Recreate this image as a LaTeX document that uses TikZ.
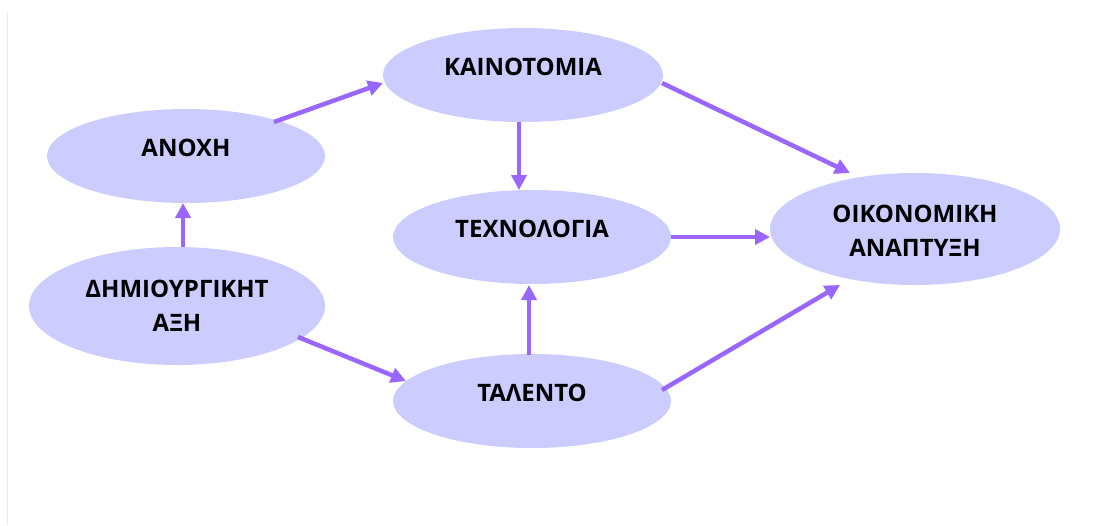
\documentclass[tikz,border=0pt]{standalone}
\usepackage{fontspec}
\setmainfont{Open Sans}
\usetikzlibrary{arrows.meta,shapes.geometric}
\definecolor{ellfill}{HTML}{CCCCFF}
\definecolor{arrcol}{HTML}{9966FF}
\begin{document}
\begin{tikzpicture}[x=1pt,y=-1pt,
  ell/.style={ellipse, fill=ellfill, inner sep=0pt},
  lbl/.style={font=\bfseries\fontsize{24}{34}\selectfont, align=center, inner sep=0pt, text=black},
  arr/.style={draw=arrcol, line width=4.5pt, -{Triangle[width=15pt,length=15pt]}}]
\useasboundingbox (0,0) rectangle (1102,525);
\fill[white] (0,0) rectangle (1102,525);
\draw[black!8, line width=1pt] (7.5,13) -- (7.5,525);
% ellipses
\node[ell, minimum width=278pt, minimum height=94pt] (anoxh) at (186,156) {};
\node[ell, minimum width=296pt, minimum height=118pt] (dim) at (177,306) {};
\node[ell, minimum width=280pt, minimum height=94pt] (kain) at (523,75) {};
\node[ell, minimum width=278pt, minimum height=94pt] (tech) at (532,237) {};
\node[ell, minimum width=278pt, minimum height=94pt] (tal) at (532,401) {};
\node[ell, minimum width=290pt, minimum height=112pt] (oik) at (915,229) {};
% labels
\node[lbl] (anoxhT) at ([yshift=8pt]anoxh.center) {ΑΝΟΧΗ};
\node[lbl] (dimT) at (dim.center) {ΔΗΜΙΟΥΡΓΙΚΗΤ\\ΑΞΗ};
\node[lbl] (kainT) at ([yshift=8pt]kain.center) {ΚΑΙΝΟΤΟΜΙΑ};
\node[lbl] (techT) at ([yshift=8pt]tech.center) {ΤΕΧΝΟΛΟΓΙΑ};
\node[lbl] (talT) at ([yshift=8pt]tal.center) {ΤΑΛΕΝΤΟ};
\node[lbl] (oikT) at ([yshift=-2pt]oik.center) {ΟΙΚΟΝΟΜΙΚΗ\\ΑΝΑΠΤΥΞΗ};
% arrows
\draw[arr] ([shift={(88,-34)}]anoxh.center) -- ([shift={(-140,8)}]kain.center);
\draw[arr] ([shift={(6,-59)}]dim.center) -- ([shift={(-3,47)}]anoxh.center);
\draw[arr] ([shift={(121,31)}]dim.center) -- ([shift={(-126,-20)}]tal.center);
\draw[arr] ([shift={(-4,47)}]kain.center) -- ([shift={(-13,-47)}]tech.center);
\draw[arr] ([shift={(-3,-46)}]tal.center) -- ([shift={(-3,48)}]tech.center);
\draw[arr] ([shift={(139,0)}]tech.center) -- ([shift={(-145,8)}]oik.center);
\draw[arr] ([shift={(130,-11)}]tal.center) -- ([shift={(-75,56)}]oik.center);
\draw[arr] ([shift={(139,8)}]kain.center) -- ([shift={(-65,-56)}]oik.center);
\end{tikzpicture}
\end{document}
